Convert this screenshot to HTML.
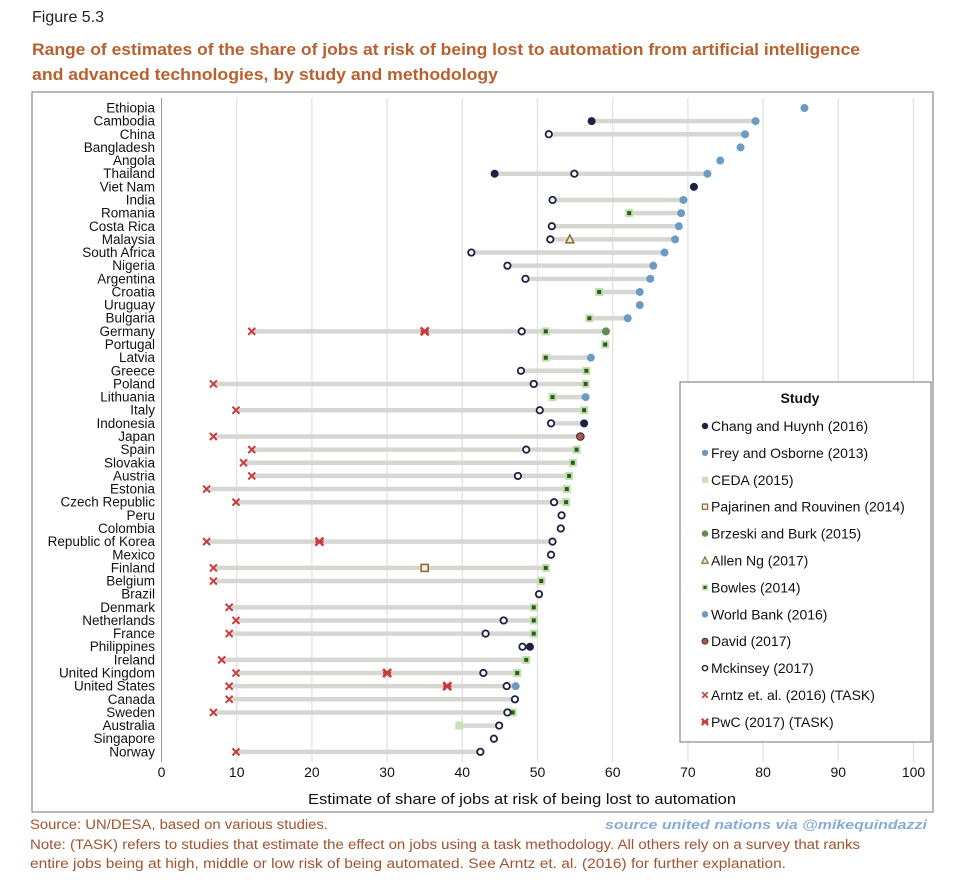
<!DOCTYPE html>
<html><head><meta charset="utf-8"><style>
body{margin:0;background:#fff;width:960px;height:884px;overflow:hidden;font-family:"Liberation Sans",sans-serif}
svg text{font-family:"Liberation Sans",sans-serif}
</style></head><body>
<svg id="chart" width="960" height="884" viewBox="0 0 960 884" xmlns="http://www.w3.org/2000/svg">
<text x="32" y="22" font-size="16" fill="#222">Figure 5.3</text>
<text x="32" y="55" font-size="16.5" font-weight="bold" fill="#b8612f" textLength="828" lengthAdjust="spacingAndGlyphs">Range of estimates of the share of jobs at risk of being lost to automation from artificial intelligence</text>
<text x="32" y="80" font-size="16.5" font-weight="bold" fill="#b8612f" textLength="466" lengthAdjust="spacingAndGlyphs">and advanced technologies, by study and methodology</text>
<rect x="32" y="92" width="901" height="720" fill="none" stroke="#8a8a8a" stroke-width="1.2"/>
<g id="grid"></g><g id="bars"></g><g id="marks"></g><g id="labels"></g>
<text x="522" y="804" font-size="14.5" text-anchor="middle" fill="#111" textLength="428" lengthAdjust="spacingAndGlyphs">Estimate of share of jobs at risk of being lost to automation</text>
<g id="legend"></g>
<text x="30" y="829" font-size="13.5" fill="#a0532e" textLength="298" lengthAdjust="spacingAndGlyphs">Source: UN/DESA, based on various studies.</text>
<text x="927" y="829" font-size="13" font-weight="bold" font-style="italic" fill="#86acd6" text-anchor="end" textLength="322" lengthAdjust="spacingAndGlyphs">source united nations via @mikequindazzi</text>
<text x="30" y="849" font-size="13.5" fill="#a0532e" textLength="830" lengthAdjust="spacingAndGlyphs">Note: (TASK) refers to studies that estimate the effect on jobs using a task methodology. All others rely on a survey that ranks</text>
<text x="30" y="868" font-size="13.5" fill="#a0532e" textLength="756" lengthAdjust="spacingAndGlyphs">entire jobs being at high, middle or low risk of being automated. See Arntz et. al. (2016) for further explanation.</text>
</svg>
<script>
const countries=["Ethiopia","Cambodia","China","Bangladesh","Angola","Thailand","Viet Nam","India","Romania","Costa Rica","Malaysia","South Africa","Nigeria","Argentina","Croatia","Uruguay","Bulgaria","Germany","Portugal","Latvia","Greece","Poland","Lithuania","Italy","Indonesia","Japan","Spain","Slovakia","Austria","Estonia","Czech Republic","Peru","Colombia","Republic of Korea","Mexico","Finland","Belgium","Brazil","Denmark","Netherlands","France","Philippines","Ireland","United Kingdom","United States","Canada","Sweden","Australia","Singapore","Norway"];
const xTicks=[0,10,20,30,40,50,60,70,80,90,100];
const changC=["Cambodia","Thailand","Viet Nam","Indonesia","Philippines"];
const changV=[57.2,44.3,70.8,56.2,49];
const freyC=["United States"];
const freyV=[47.1];
const cedaC=["Australia"];
const cedaV=[39.6];
const pajC=["Finland"];
const pajV=[35];
const brzC=["Germany"];
const brzV=[59.1];
const allenC=["Malaysia"];
const allenV=[54.3];
const bowlesC=["Romania","Croatia","Bulgaria","Germany","Portugal","Latvia","Greece","Poland","Lithuania","Italy","Spain","Slovakia","Austria","Estonia","Czech Republic","Finland","Belgium","Denmark","Netherlands","France","Ireland","United Kingdom","Sweden"];
const bowlesV=[62.2,58.2,56.9,51.1,59,51.1,56.5,56.4,52,56.2,55.2,54.7,54.2,53.9,53.8,51.1,50.5,49.5,49.5,49.5,48.5,47.3,46.7];
const wbC=["Ethiopia","Cambodia","China","Bangladesh","Angola","Thailand","India","Romania","Costa Rica","Malaysia","South Africa","Nigeria","Argentina","Croatia","Uruguay","Bulgaria","Latvia","Lithuania"];
const wbV=[85.5,79,77.6,77,74.3,72.6,69.4,69.1,68.8,68.3,66.9,65.4,65,63.6,63.6,62,57.1,56.4];
const davidC=["Japan"];
const davidV=[55.7];
const mckC=["China","Thailand","India","Costa Rica","Malaysia","South Africa","Nigeria","Argentina","Germany","Greece","Poland","Italy","Indonesia","Spain","Austria","Czech Republic","Peru","Colombia","Republic of Korea","Mexico","Brazil","Netherlands","France","Philippines","United Kingdom","United States","Canada","Sweden","Australia","Singapore","Norway"];
const mckV=[51.5,54.9,52,51.9,51.7,41.2,46,48.4,47.9,47.8,49.5,50.3,51.8,48.5,47.4,52.2,53.2,53.1,52,51.8,50.2,45.5,43.1,48,42.8,45.9,47,46,44.9,44.2,42.4];
const arntzC=["Germany","Poland","Italy","Japan","Spain","Slovakia","Austria","Estonia","Czech Republic","Republic of Korea","Finland","Belgium","Denmark","Netherlands","France","Ireland","United Kingdom","United States","Canada","Sweden","Norway"];
const arntzV=[12,6.9,9.9,6.9,12,10.9,12,6,9.9,6,6.9,6.9,9,9.9,9,8,9.9,9,9,6.9,9.9];
const pwcC=["Germany","Republic of Korea","United Kingdom","United States"];
const pwcV=[35,21,30,38];

const NS="http://www.w3.org/2000/svg";
const X0=161.5,X1=913.5,Y0=108,DY=13.14;
function xs(v){return X0+(X1-X0)*v/100;}
function ys(c){return Y0+countries.indexOf(c)*DY;}
function mk(tag,attrs,parent){const e=document.createElementNS(NS,tag);for(const k in attrs)e.setAttribute(k,attrs[k]);parent.appendChild(e);return e;}
const grid=document.getElementById('grid'),bars=document.getElementById('bars'),marks=document.getElementById('marks'),labels=document.getElementById('labels');
xTicks.forEach(t=>{
  if(t>0){const l=mk('line',{x1:xs(t),x2:xs(t),y1:98,y2:762,stroke:'#e2e2e2','stroke-width':1.3},grid);
  
  }
  const tx=mk('text',{x:xs(t),y:777,'font-size':14,'text-anchor':'middle',fill:'#111'},labels);
  tx.textContent=t;
  
  
});
const ax=mk('line',{x1:X0,x2:X0,y1:98,y2:762,stroke:'#999','stroke-width':1},grid);


countries.forEach((c,i)=>{
  const t=mk('text',{x:155,y:Y0+i*DY+4.5,'font-size':13.5,'text-anchor':'end',fill:'#111'},labels);
  t.textContent=c;
  
  
});
const series=[[changC,changV],[freyC,freyV],[cedaC,cedaV],[pajC,pajV],[brzC,brzV],[allenC,allenV],[bowlesC,bowlesV],[wbC,wbV],[davidC,davidV],[mckC,mckV],[arntzC,arntzV],[pwcC,pwcV]];
countries.forEach(c=>{
  const vals=[];series.forEach(s=>s[0].forEach((cc,j)=>{if(cc===c)vals.push(s[1][j]);}));
  if(vals.length>1){const b=mk('line',{x1:xs(Math.min(...vals)),x2:xs(Math.max(...vals)),y1:ys(c),y2:ys(c),stroke:'#d6d6d3','stroke-width':4.5},bars);
  
  }
});
function marker(type,x,y,g){
  if(type==='chang')mk('circle',{cx:x,cy:y,r:4,fill:'#1b2140'},g);
  else if(type==='frey'||type==='wb')mk('circle',{cx:x,cy:y,r:4,fill:'#6b9bc4'},g);
  else if(type==='ceda')mk('rect',{x:x-4,y:y-4,width:8,height:8,fill:'#c4e2b4'},g);
  else if(type==='paj')mk('rect',{x:x-3.5,y:y-3.5,width:7,height:7,fill:'#f6eed4',stroke:'#8b6a3a','stroke-width':1.6},g);
  else if(type==='brz')mk('circle',{cx:x,cy:y,r:4,fill:'#5e8f4c'},g);
  else if(type==='allen')mk('path',{d:`M${x} ${y-4.5}L${x+4} ${y+3.5}L${x-4} ${y+3.5}Z`,fill:'#f3e9cc',stroke:'#8b6a3a','stroke-width':1.5},g);
  else if(type==='bowles'){mk('rect',{x:x-4,y:y-4,width:8,height:8,fill:'#bfe0ad'},g);mk('rect',{x:x-2,y:y-2,width:4,height:4,fill:'#2d5a1c'},g);}
  else if(type==='david')mk('circle',{cx:x,cy:y,r:3.8,fill:'#a45a48',stroke:'#2a2030','stroke-width':1},g);
  else if(type==='mck')mk('circle',{cx:x,cy:y,r:3.2,fill:'#fff',stroke:'#1b2140','stroke-width':1.8},g);
  else if(type==='arntz')mk('path',{d:`M${x-3.5} ${y-3.5}L${x+3.5} ${y+3.5}M${x+3.5} ${y-3.5}L${x-3.5} ${y+3.5}`,stroke:'#c83c3c','stroke-width':2},g);
  else if(type==='pwc')mk('path',{d:`M${x-4} ${y-4}L${x+4} ${y+4}M${x+4} ${y-4}L${x-4} ${y+4}M${x-4} ${y}L${x+4} ${y}`,stroke:'#c83c3c','stroke-width':2.6},g);
}
const types=['chang','frey','ceda','paj','brz','allen','bowles','wb','david','mck','arntz','pwc'];
series.forEach((s,k)=>{
  s[0].forEach((c,j)=>{
    const g=mk('g',{},marks);
    
    
    marker(types[k],xs(s[1][j]),ys(c),g);
  });
});
const legend=document.getElementById('legend');
mk('rect',{x:680,y:382,width:251,height:360,fill:'#fff',stroke:'#8a8a8a','stroke-width':1.2},legend);
const lt=mk('text',{x:800,y:403,'font-size':14,'font-weight':'bold','text-anchor':'middle',fill:'#111'},legend);
lt.textContent='Study';


const legendNames=["Chang and Huynh (2016)","Frey and Osborne (2013)","CEDA (2015)","Pajarinen and Rouvinen (2014)","Brzeski and Burk (2015)","Allen Ng (2017)","Bowles (2014)","World Bank (2016)","David (2017)","Mckinsey (2017)","Arntz et. al. (2016) (TASK)","PwC (2017) (TASK)"];
const legendTypes=['chang','frey','ceda','paj','brz','allen','bowles','wb','david','mck','arntz','pwc'];
legendNames.forEach((n,i)=>{
  const y=426+i*26.9;
  const g=mk('g',{},legend);
  
  
  const sc=(legendTypes[i]==='ceda'||legendTypes[i]==='bowles'||legendTypes[i]==='paj')?0.75:0.8;
  const mg=mk('g',{transform:`translate(${705},${y}) scale(${sc}) translate(${-705},${-y})`},g);
  marker(legendTypes[i],705,y,mg);
  const t=mk('text',{x:711,y:y+5,'font-size':14,fill:'#111'},g);
  t.textContent=n;
});
</script>
</body></html>
